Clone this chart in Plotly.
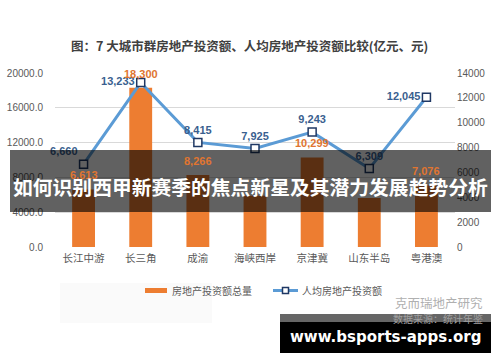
import plotly.graph_objects as go

categories = ["长江中游", "长三角", "成渝", "海峡西岸", "京津冀", "山东半岛", "粤港澳"]
invest_total = [6613, 18300, 8266, 5900, 10299, 5630, 7076]
invest_total_labels = ["6,613", "18,300", "8,266", "", "10,299", "", "7,076"]
invest_per_capita = [6660, 13233, 8415, 7925, 9243, 6309, 12045]
per_capita_labels = ["6,660", "13,233", "8,415", "7,925", "9,243", "6,309", "12,045"]
left_ticks = [0, 4000, 8000, 12000, 16000, 20000]
right_ticks = [0, 2000, 4000, 6000, 8000, 10000, 12000, 14000]
series_names = ["房地产投资额总量", "人均房地产投资额"]

W, H = 500, 362
L, R, T, B = 55, 455, 73, 247


def px(x):
    return (x - L) / (R - L)


def py(y):
    return (B - y) / (B - T)


fig = go.Figure()
fig.add_trace(go.Bar(
    x=categories, y=invest_total, name=series_names[0],
    marker=dict(color="#ED7D31", line=dict(width=0)),
    width=0.4,
))
fig.add_trace(go.Scatter(
    x=categories, y=invest_per_capita, name=series_names[1], yaxis="y2",
    mode="lines+markers+text",
    line=dict(color="#5B9BD5", width=3),
    marker=dict(symbol="square", size=8, color="#FFFFFF", line=dict(color="#1F3864", width=1.5)),
    text=per_capita_labels,
    texttemplate="<b>%{text}</b>",
    textposition=["top left", "middle left", "top center", "top center", "top center", "top center", "middle left"],
    textfont=dict(color="#3A5F8F", size=11, family="Liberation Sans"),
    cliponaxis=False,
))

fig.update_layout(
    width=W, height=H,
    margin=dict(l=L, r=W - R, t=T, b=H - B, autoexpand=False),
    paper_bgcolor="white", plot_bgcolor="white",
    font=dict(family="Noto Sans CJK SC", color="#595959", size=11),
    showlegend=False,
    xaxis=dict(
        showgrid=False, showline=False, zeroline=False, ticks="", automargin=False,
        tickfont=dict(size=10.5, color="#595959", family="Noto Sans CJK SC"),
        ticklabelstandoff=3,
    ),
    yaxis=dict(
        range=[0, 20000], tickvals=left_ticks, tickformat=".1f", automargin=False,
        showgrid=True, gridcolor="#D9D9D9", gridwidth=1, zeroline=False,
        showline=False, ticks="",
        tickfont=dict(size=10, color="#595959", family="Liberation Sans"),
        ticklabelstandoff=11,
    ),
    yaxis2=dict(
        range=[0, 14000], tickvals=right_ticks, tickformat="d", automargin=False,
        overlaying="y", side="right",
        showgrid=False, zeroline=False, showline=False, ticks="",
        tickfont=dict(size=10, color="#595959", family="Liberation Sans"),
        ticklabelstandoff=1,
    ),
)

shapes = []
annotations = []

# bar value labels, placed from the data through the axes
for cat, val, lab in zip(categories, invest_total, invest_total_labels):
    if lab:
        annotations.append(dict(xref="x", yref="y", x=cat, y=val, text="<b>%s</b>" % lab,
                                showarrow=False, xanchor="center", yanchor="middle", yshift=14,
                                font=dict(size=11, color="#E07530", family="Liberation Sans")))

# faint legend background
shapes.append(dict(type="rect", xref="paper", yref="paper",
                   x0=px(60), x1=px(212), y0=py(323), y1=py(283),
                   fillcolor="#FAFAFA", line=dict(width=0), layer="below"))

# legend (drawn by hand to mimic the wide swatch)
shapes.append(dict(type="rect", xref="paper", yref="paper",
                   x0=px(145), x1=px(167), y0=py(293), y1=py(288),
                   fillcolor="#ED7D31", line=dict(width=0)))
annotations.append(dict(xref="paper", yref="paper", x=px(170), y=py(290.5),
                        text=series_names[0], showarrow=False, xanchor="left", yanchor="middle",
                        font=dict(size=10, color="#595959", family="Noto Sans CJK SC")))
shapes.append(dict(type="line", xref="paper", yref="paper",
                   x0=px(273), x1=px(298), y0=py(290.5), y1=py(290.5),
                   line=dict(color="#5B9BD5", width=3)))
shapes.append(dict(type="rect", xref="paper", yref="paper",
                   x0=px(282.5), x1=px(288.5), y0=py(293.5), y1=py(287.5),
                   fillcolor="#FFFFFF", line=dict(color="#1F3864", width=1.5)))
annotations.append(dict(xref="paper", yref="paper", x=px(300), y=py(290.5),
                        text=series_names[1], showarrow=False, xanchor="left", yanchor="middle",
                        font=dict(size=10, color="#595959", family="Noto Sans CJK SC")))

# title
annotations.append(dict(xref="paper", yref="paper", x=px(249), y=py(45),
                        text="<b>图：7 大城市群房地产投资额、人均房地产投资额比较(亿元、元)</b>",
                        showarrow=False, xanchor="center", yanchor="middle",
                        font=dict(size=12.5, color="#404040", family="Noto Sans CJK SC")))

# watermark
annotations.append(dict(xref="paper", yref="paper", x=px(485), y=py(302),
                        text="克而瑞地产研究", showarrow=False, xanchor="right", yanchor="middle",
                        font=dict(size=12.5, color="#B0B0B0", family="Noto Sans CJK SC")))
annotations.append(dict(xref="paper", yref="paper", x=px(485), y=py(318),
                        text="数据来源：统计年鉴", showarrow=False, xanchor="right", yanchor="middle",
                        font=dict(size=10, color="#A0A0A0", family="Noto Sans CJK SC")))

# banner overlay
shapes.append(dict(type="rect", xref="paper", yref="paper",
                   x0=px(10), x1=px(491), y0=py(212), y1=py(150),
                   fillcolor="rgba(0,0,0,0.62)", line=dict(width=0), layer="above"))
annotations.append(dict(xref="paper", yref="paper", x=px(250), y=py(186),
                        text="<b>如何识别西甲新赛季的焦点新星及其潜力发展趋势分析</b>",
                        showarrow=False, xanchor="center", yanchor="middle",
                        font=dict(size=19.8, color="#FFFFFF", family="Noto Sans CJK SC")))

# footer
shapes.append(dict(type="rect", xref="paper", yref="paper",
                   x0=px(280), x1=px(491), y0=py(322), y1=py(314),
                   fillcolor="rgba(0,0,0,0.6)", line=dict(width=0), layer="above"))
shapes.append(dict(type="rect", xref="paper", yref="paper",
                   x0=px(280), x1=px(491), y0=py(353), y1=py(322),
                   fillcolor="#000000", line=dict(width=0), layer="above"))
annotations.append(dict(xref="paper", yref="paper", x=px(385), y=py(337),
                        text="<b>www.bsports-apps.org</b>", showarrow=False,
                        xanchor="center", yanchor="middle",
                        font=dict(size=15, color="#FFFFFF", family="DejaVu Sans")))

fig.update_layout(shapes=shapes, annotations=annotations)
fig.write_html("out.html", config={"displayModeBar": False},
               post_script="document.body.style.margin='0';document.body.style.overflow='hidden';")
